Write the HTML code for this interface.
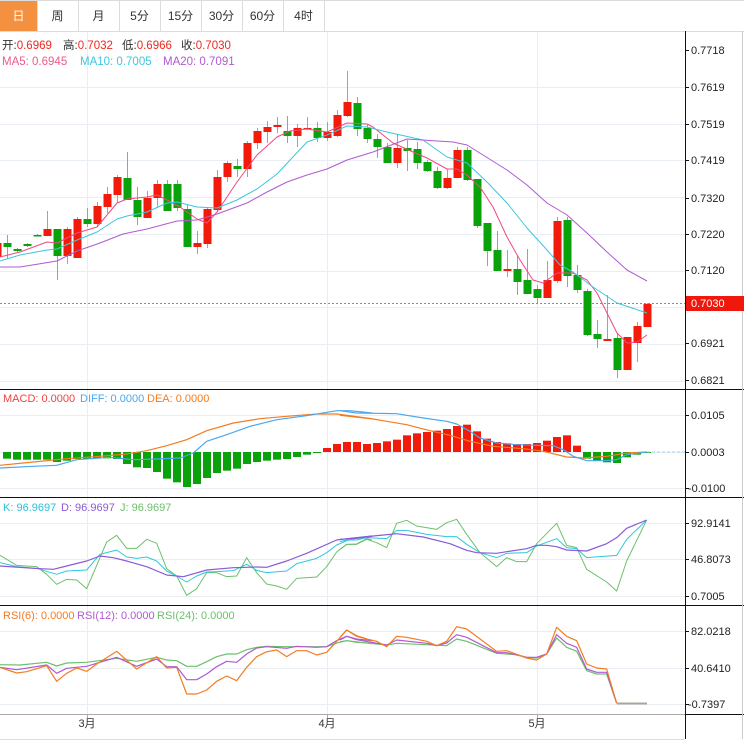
<!DOCTYPE html>
<html><head><meta charset="utf-8"><style>
html,body{margin:0;padding:0;background:#fff;width:744px;height:745px;overflow:hidden}
svg{display:block}
text{font-family:"Liberation Sans","Noto Sans CJK SC",sans-serif}
</style></head><body>
<svg id="s" width="744" height="745" xmlns="http://www.w3.org/2000/svg">
<rect x="0" y="0" width="744" height="745" fill="#fff"/>
<g id="grid" stroke="#e8eef3" stroke-width="1"></g>
<rect x="0" y="0" width="37" height="31" fill="#f39140"/>
<g stroke="#dcdcdc" fill="none">
<line x1="0" y1="31.5" x2="744" y2="31.5"/>
<line x1="37.5" y1="0" x2="37.5" y2="31"/><line x1="78.5" y1="0" x2="78.5" y2="31"/>
<line x1="119.5" y1="0" x2="119.5" y2="31"/><line x1="160.5" y1="0" x2="160.5" y2="31"/>
<line x1="201.5" y1="0" x2="201.5" y2="31"/><line x1="242.5" y1="0" x2="242.5" y2="31"/>
<line x1="283.5" y1="0" x2="283.5" y2="31"/><line x1="324.5" y1="0" x2="324.5" y2="31"/>
<line x1="0" y1="0.5" x2="744" y2="0.5"/>
</g>
<g font-size="12" text-anchor="middle" fill="#333">
<text x="18.5" y="20" fill="#fff">日</text><text x="57.5" y="20">周</text><text x="98.5" y="20">月</text>
<text x="139.5" y="20">5分</text><text x="180.5" y="20">15分</text><text x="221.5" y="20">30分</text>
<text x="262.5" y="20">60分</text><text x="303.5" y="20">4时</text>
</g>
<g id="plot"></g>
<g font-size="11.5">
<text x="2" y="49" fill="#333">开:<tspan fill="#f0281e">0.6969</tspan></text>
<text x="63" y="49" fill="#333">高:<tspan fill="#f0281e">0.7032</tspan></text>
<text x="122" y="49" fill="#333">低:<tspan fill="#f0281e">0.6966</tspan></text>
<text x="181" y="49" fill="#333">收:<tspan fill="#f0281e">0.7030</tspan></text>
<text x="2" y="65" fill="#ee5a8a">MA5: 0.6945</text>
<text x="80" y="65" fill="#3ec6de">MA10: 0.7005</text>
<text x="163" y="65" fill="#b05ad0">MA20: 0.7091</text>
</g>
<g font-size="11">
<text x="3" y="402" fill="#f04040">MACD: 0.0000</text>
<text x="80" y="402" fill="#4aa8f0">DIFF: 0.0000</text>
<text x="147" y="402" fill="#f47c20">DEA: 0.0000</text>
<text x="3" y="511" fill="#2fc0d8">K: 96.9697</text>
<text x="61" y="511" fill="#8a5ad8">D: 96.9697</text>
<text x="120" y="511" fill="#6cc06c">J: 96.9697</text>
<text x="3" y="619" fill="#f47c20">RSI(6): 0.0000</text>
<text x="77" y="619" fill="#b05ad0">RSI(12): 0.0000</text>
<text x="157" y="619" fill="#6cc06c">RSI(24): 0.0000</text>
</g>
<g stroke="#111" stroke-width="1" fill="none">
<line x1="685.5" y1="31" x2="685.5" y2="739"/>
<line x1="0" y1="389.5" x2="744" y2="389.5"/>
<line x1="0" y1="497.5" x2="744" y2="497.5"/>
<line x1="0" y1="605.5" x2="744" y2="605.5"/>
<line x1="685" y1="714.5" x2="744" y2="714.5"/>
</g>
<line x1="0" y1="714.5" x2="685" y2="714.5" stroke="#aaa"/>
<line x1="0" y1="739.5" x2="685" y2="739.5" stroke="#ddd"/>
<line x1="742.5" y1="31" x2="742.5" y2="739" stroke="#ccc"/>
<g stroke="#aaa"><line x1="87.5" y1="714" x2="87.5" y2="718"/><line x1="327.5" y1="714" x2="327.5" y2="718"/><line x1="537.5" y1="714" x2="537.5" y2="718"/></g>
<g font-size="11" fill="#333" text-anchor="middle">
<text x="87" y="727">3月</text><text x="327" y="727">4月</text><text x="537" y="727">5月</text>
</g>
<g id="ticks" stroke="#111"></g>
<g font-size="11" fill="#222">
<text x="691" y="54">0.7718</text><text x="691" y="91">0.7619</text><text x="691" y="128">0.7519</text>
<text x="691" y="164">0.7419</text><text x="691" y="202">0.7320</text><text x="691" y="238">0.7220</text>
<text x="691" y="274">0.7120</text><text x="691" y="347">0.6921</text><text x="691" y="384">0.6821</text>
<text x="691" y="419">0.0105</text><text x="691" y="456">0.0003</text><text x="688" y="492">-0.0100</text>
<text x="691" y="527">92.9141</text><text x="691" y="563">46.8073</text><text x="691" y="600">0.7005</text>
<text x="691" y="635">82.0218</text><text x="691" y="672">40.6410</text><text x="688" y="708">-0.7397</text>
</g>
<rect x="686" y="296" width="58" height="15" fill="#f0180c"/>
<text x="691" y="307" font-size="11" fill="#fff">0.7030</text>
</svg>
<script>
const NS="http://www.w3.org/2000/svg";
function el(p,t,a){const e=document.createElementNS(NS,t);for(const k in a)e.setAttribute(k,a[k]);p.appendChild(e);return e;}
const grid=document.getElementById('grid'),plot=document.getElementById('plot'),ticks=document.getElementById('ticks');
[87,124,160,197,234,271,307,344,381,415,452,488,523,559,596,631,668,704].forEach(y=>el(grid,'line',{x1:0,x2:685,y1:y+.5,y2:y+.5}));
[87,327,537].forEach(x=>el(grid,'line',{x1:x+.5,x2:x+.5,y1:32,y2:714}));
[50,87,124,160,198,234,270,343,380,415,452,488,523,559,596,631,668,704].forEach(y=>el(ticks,'line',{x1:685,x2:689,y1:y+.5,y2:y+.5}));
el(plot,'line',{x1:0,x2:685,y1:303.5,y2:303.5,stroke:'#f06060','stroke-dasharray':'2,2','stroke-width':1});
const R='#f21a0a',G='#0aa20a',RW='#f28080',GW='#70c070';
const C=[[243,257,243,257,'r'],
[243,247,235,259,'g'],[249,251,248,252,'g'],[244,246,243,247,'g'],[235,236,234,236,'g'],[229,236,211,236,'r'],
[229,256,229,280,'g'],[229,256,227,264,'r'],[219,258,217,258,'r'],[219,224,208,227,'g'],[206,224,202,227,'r'],
[194,207,187,213,'r'],[177,195,175,203,'r'],[178,200,152,200,'g'],[200,217,187,225,'g'],[198,218,191,218,'r'],
[184,198,180,208,'r'],[184,211,180,211,'g'],[184,208,180,211,'g'],[209,247,205,247,'g'],[243,247,231,254,'r'],
[209,244,207,248,'r'],[177,210,170,212,'r'],[163,177,161,182,'r'],[166,169,159,177,'g'],[143,169,141,177,'r'],
[131,143,128,149,'r'],[127,132,121,143,'r'],[125,127,117,133,'r'],[131,136,116,143,'g'],[128,136,124,147,'r'],
[128,129,117,130,'r'],[128,138,122,142,'g'],[132,138,122,141,'r'],[115,136,110,137,'r'],[102,116,71,117,'r'],
[103,129,97,136,'g'],[128,139,125,143,'g'],[139,147,134,158,'g'],[147,163,143,163,'g'],[148,163,134,168,'r'],
[148,151,140,171,'g'],[149,163,142,169,'g'],[162,171,160,172,'g'],[171,188,167,189,'g'],[178,188,169,189,'r'],
[150,178,147,178,'r'],[150,180,147,181,'g'],[179,226,179,228,'g'],[223,251,223,266,'g'],[250,271,231,271,'g'],
[269,271,250,277,'r'],[269,282,256,295,'g'],[280,294,249,294,'g'],[289,298,285,303,'g'],[280,298,261,298,'r'],
[221,281,217,283,'r'],[220,276,217,287,'g'],[275,290,265,293,'g'],[291,335,289,336,'g'],[334,339,320,348,'g'],
[339,341,295,341,'r'],[338,370,333,378,'g'],[337,370,337,370,'r'],[326,343,322,362,'r'],[304,327,303,327,'r']];
C.forEach((c,i)=>{const x=-3+10*i;const r=c[4]=='r';
el(plot,'line',{x1:x+.5,x2:x+.5,y1:c[2],y2:c[3],stroke:r?RW:GW,'stroke-width':1});
el(plot,'rect',{x:x-3.5,y:c[0],width:8,height:Math.max(1.5,c[1]-c[0]),fill:r?R:G});});
function pl(pts,color,w,f){el(plot,'polyline',{points:pts.map(p=>f(p[0],p[1]).join(',')).join(' '),fill:'none',stroke:color,'stroke-width':w||1,'stroke-linejoin':'round'});}
const id=(x,y)=>[x,y];
pl([[0,257],[20,252],[47,242],[57,243],[77,233],[97,227],[117,203],[127,199],[147,197],[157,195],[167,200],[180,207],[197,219],[207,223],[217,212],[237,182],[257,155],[277,137],[290,131],[307,129],[327,132],[347,123],[367,124],[373,127],[393,143],[413,152],[427,158],[447,169],[457,169],[467,175],[480,187],[493,207],[507,237],[520,260],[533,280],[543,283],[557,273],[573,273],[587,280],[597,293],[607,313],[617,333],[627,343],[637,342],[647,335]],'#ee4a80',1,id);
pl([[0,261],[20,255],[47,250],[57,249],[77,240],[97,232],[117,219],[127,216],[147,212],[167,203],[177,202],[197,207],[217,208],[237,200],[257,189],[277,174],[307,142],[327,135],[347,126],[367,127],[387,132],[423,140],[447,157],[467,163],[487,182],[507,203],[527,228],[547,250],[560,265],[573,272],[593,287],[617,303],[647,313]],'#3ec6de',1,id);
pl([[0,267],[20,267],[57,261],[77,251],[100,243],[123,234],[147,229],[177,221],[197,220],[217,214],[247,203],[267,192],[287,182],[307,175],[327,169],[347,160],[373,152],[407,139],[453,142],[467,145],[483,155],[507,170],[527,185],[547,203],[567,215],[587,233],[607,252],[627,270],[647,281]],'#b05ad0',1,id);
const Mz=[212,215,215,215,215,222,218,213,213,211,211,213,228,238,240,252,272,283,297,288,270,255,248,242,228,222,218,215,213,207,200,194,180,168,162,162,168,165,160,155,142,136,132,128,123,114,110,130,152,162,166,168,168,165,158,147,142,173,212,218,223,225,208,200,194];
Mz.forEach((z,i)=>{const x=7+10*i;const y0=452,y=388+z/3;const up=y<y0;
el(plot,'rect',{x:x-4,y:Math.min(y,y0),width:8,height:Math.max(1,Math.abs(y-y0)),fill:up?R:G});});
const M4=(x,y)=>[x/3,388+y/3],M5=(x,y)=>[340+x/3,388+y/3];
el(plot,'line',{x1:647,x2:685,y1:452,y2:452,stroke:'#9cd4f0','stroke-dasharray':'3,2'});
pl([[0,232],[100,222],[200,212],[300,205],[380,198],[440,188],[500,173],[560,155],[620,128],[700,105],[780,92],[860,85],[950,78],[1010,78],[1116,92]],'#f47c20',1.2,M4);
pl([[0,82],[100,93],[200,110],[270,128],[330,142],[390,160],[460,175],[550,182],[610,190],[680,207],[730,210],[800,205],[860,195],[920,192]],'#f47c20',1.2,M5);
pl([[0,240],[100,235],[170,232],[230,215],[330,208],[400,215],[470,213],[540,210],[580,195],[620,160],[680,140],[750,115],[830,95],[920,83],[1010,68],[1050,68],[1116,75]],'#4aa8f0',1.2,M4);
pl([[0,68],[50,75],[170,77],[250,90],[320,100],[350,108],[390,130],[420,150],[470,165],[530,170],[590,172],[640,173],[670,185],[700,205],[740,218],[800,218],[830,215],[860,200],[920,192]],'#4aa8f0',1.2,M5);
const K6=(x,y)=>[x/3,496+y/3],K7=(x,y)=>[340+x/3,496+y/3];
pl([[0,178],[50,208],[110,212],[140,235],[170,265],[200,250],[230,252],[260,278],[300,185],[320,138],[350,118],[380,157],[410,157],[440,130],[470,142],[500,218],[530,240],[560,298],[590,278],[620,230],[650,230],[680,242],[710,240],[740,185],[770,230],[800,264],[830,270],[860,280],[890,247],[950,243],[980,212],[1010,168],[1040,145],[1070,144],[1100,128],[1116,132]],'#6cc06c',1,K6);
pl([[0,160],[20,145],[50,145],[80,130],[110,140],[140,155],[170,82],[200,73],[230,90],[290,100],[320,80],[350,70],[380,115],[420,170],[470,212],[500,185],[530,197],[560,197],[590,143],[650,82],[680,148],[710,155],[740,220],[800,258],[830,285],[860,195],[920,72]],'#6cc06c',1,K7);
pl([[0,200],[50,212],[110,217],[170,235],[200,225],[260,222],[300,175],[350,162],[380,183],[410,187],[440,183],[470,195],[500,225],[530,240],[560,258],[590,240],[620,228],[650,227],[700,224],[740,205],[770,223],[800,230],[860,225],[890,203],[950,187],[980,170],[1010,147],[1050,130],[1116,122]],'#2fc8dc',1,K6);
pl([[0,137],[20,132],[50,132],[80,125],[140,128],[170,103],[200,103],[260,115],[320,122],[350,122],[380,145],[420,170],[470,185],[500,172],[560,170],[590,150],[650,128],[680,155],[710,158],[740,185],[830,178],[860,130],[920,72]],'#2fc8dc',1,K7);
pl([[0,210],[100,217],[160,220],[200,210],[260,195],[300,180],[340,185],[380,195],[440,212],[500,237],[550,242],[620,222],[700,215],[770,213],[800,214],[860,195],[920,172],[1010,132],[1050,127],[1116,120]],'#8a5ad8',1.2,K6);
pl([[0,130],[50,127],[100,120],[170,113],[250,123],[330,143],[380,163],[410,170],[470,172],[500,167],[560,158],[590,148],[620,148],[650,152],[680,162],[740,165],[800,143],[830,125],[860,97],[920,72]],'#8a5ad8',1.2,K7);
const R8=(x,y)=>[x/3,604+y/3],R9=(x,y)=>[340+x/3,604+y/3];
pl([[0,182],[60,183],[140,175],[170,186],[200,177],[260,175],[350,163],[410,172],[470,160],[500,168],[530,170],[560,187],[590,187],[620,173],[650,158],[680,150],[710,150],[740,137],[770,130],[800,127],[860,128],[920,128],[980,128],[1010,117],[1040,110],[1070,115],[1116,118]],'#6cc06c',1.2,R8);
pl([[0,113],[20,110],[80,117],[140,123],[170,118],[260,122],[320,125],[350,105],[380,112],[470,148],[530,152],[560,160],[590,162],[620,150],[650,102],[680,130],[710,142],[740,200],[770,210],[800,210],[830,298]],'#6cc06c',1.2,R9);
pl([[0,190],[50,197],[140,183],[170,208],[200,193],[260,187],[350,160],[410,187],[470,165],[500,188],[530,188],[560,227],[590,227],[620,210],[650,188],[680,172],[710,175],[740,150],[770,132],[800,128],[860,133],[890,127],[950,130],[980,128],[1010,110],[1040,97],[1070,105],[1116,110]],'#b05ad0',1.2,R8);
pl([[0,108],[20,97],[50,107],[140,123],[170,108],[260,118],[290,125],[320,117],[350,92],[380,100],[470,146],[500,146],[560,160],[590,160],[620,150],[650,92],[680,118],[710,130],[740,195],[770,205],[800,205],[830,298]],'#b05ad0',1.2,R9);
pl([[0,190],[50,207],[80,203],[140,185],[170,232],[200,208],[230,192],[260,202],[290,180],[350,142],[410,195],[470,158],[500,192],[530,190],[560,270],[590,270],[620,258],[650,232],[680,216],[710,230],[740,190],[770,158],[800,143],[830,138],[860,158],[890,140],[920,140],[950,153],[980,145],[1010,112],[1040,78],[1070,95],[1116,110]],'#f47c20',1.2,R8);
pl([[0,100],[20,78],[50,97],[80,105],[110,112],[140,128],[170,97],[200,100],[260,112],[290,125],[320,112],[350,68],[380,75],[470,142],[500,140],[560,162],[590,168],[620,150],[650,70],[680,97],[710,110],[740,180],[770,192],[800,195],[830,298]],'#f47c20',1.2,R9);
el(plot,'line',{x1:617,x2:647,y1:703.5,y2:703.5,stroke:'#a8a898','stroke-width':2});
</script>
</body></html>
